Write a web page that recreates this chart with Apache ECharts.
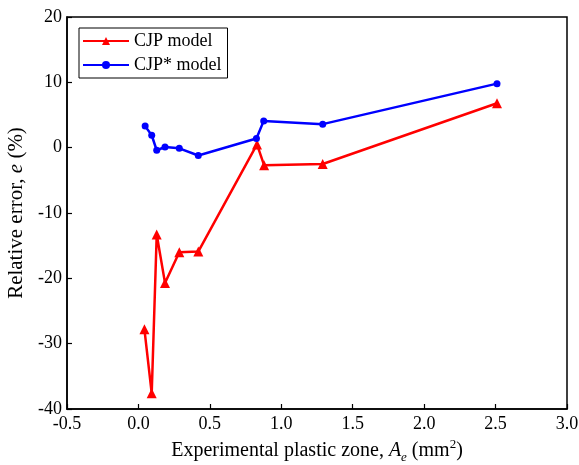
<!DOCTYPE html>
<html>
<head>
<meta charset="utf-8">
<script src="https://cdn.jsdelivr.net/npm/echarts@6/dist/echarts.min.js"></script>
<style>
  html, body { margin: 0; padding: 0; background: #fff; }
  #chart { width: 579px; height: 465px; }
</style>
</head>
<body>
<div id="chart"></div>
<script>
// data
var cjpX = [0.042, 0.093, 0.128, 0.186, 0.286, 0.419, 0.83, 0.88, 1.29, 2.51]
var cjpY = [-27.8, -37.6, -13.3, -20.7, -16.0, -15.9, 0.5, -2.7, -2.5, 6.8]
var cjpStarX = [0.047, 0.093, 0.128, 0.186, 0.286, 0.419, 0.826, 0.877, 1.29, 2.51]
var cjpStarY = [3.3, 1.9, -0.4, 0.1, -0.1, -1.2, 1.4, 4.1, 3.6, 9.8]

function pairs (xs, ys) {
  var out = []
  for (var i = 0; i < xs.length; i++) out.push([xs[i], ys[i]])
  return out
}

var serif = '"Liberation Serif", "DejaVu Serif", serif'
var chart = echarts.init(document.getElementById('chart'))

var options = {
  backgroundColor: '#fff',
  animation: false,
  grid: {
    left: 67,
    right: 12,
    top: 17,
    bottom: 56,
    outerBoundsMode: 'none',
    show: true,
    borderColor: '#000',
    borderWidth: 1.5
  },
  legend: {
    orient: 'vertical',
    left: 79,
    top: 28,
    itemWidth: 46,
    itemHeight: 10,
    itemGap: 6,
    padding: [4, 6, 4, 3],
    borderColor: '#000',
    borderWidth: 1,
    textStyle: { fontFamily: serif, fontSize: 18, color: '#000' },
    data: ['CJP model', 'CJP* model']
  },
  xAxis: {
    type: 'value',
    min: -0.5,
    max: 3.0,
    interval: 0.5,
    name: '{n|Experimental plastic zone, }{i|A}{sub|e}{n| (mm}{sup|2}{n|)}',
    nameLocation: 'middle',
    nameGap: 28,
    nameTextStyle: {
      rich: {
        n: { fontFamily: serif, fontSize: 20, color: '#000', lineHeight: 26 },
        i: { fontFamily: serif, fontSize: 20, color: '#000', fontStyle: 'italic', lineHeight: 26 },
        sub: { fontFamily: serif, fontSize: 13, color: '#000', fontStyle: 'italic', verticalAlign: 'bottom' },
        sup: { fontFamily: serif, fontSize: 13, color: '#000', verticalAlign: 'top' }
      }
    },
    axisLine: { onZero: false, lineStyle: { color: '#000', width: 1.5 } },
    axisTick: { inside: true, length: 5, lineStyle: { color: '#000', width: 1.2 } },
    axisLabel: {
      fontFamily: serif,
      fontSize: 18,
      color: '#000',
      margin: 6,
      formatter: function (v) { return v.toFixed(1) }
    },
    splitLine: { show: false }
  },
  yAxis: {
    type: 'value',
    min: -40,
    max: 20,
    interval: 10,
    name: '{n|Relative error, }{i|e}{n| (%)}',
    nameLocation: 'middle',
    nameGap: 34,
    nameTextStyle: {
      rich: {
        n: { fontFamily: serif, fontSize: 21, color: '#000' },
        i: { fontFamily: serif, fontSize: 21, color: '#000', fontStyle: 'italic' }
      }
    },
    axisLine: { onZero: false, lineStyle: { color: '#000', width: 1.5 } },
    axisTick: { inside: true, length: 5, lineStyle: { color: '#000', width: 1.2 } },
    axisLabel: { fontFamily: serif, fontSize: 18, color: '#000', margin: 5 },
    splitLine: { show: false }
  },
  series: [
    {
      name: 'CJP model',
      type: 'line',
      data: pairs(cjpX, cjpY),
      symbol: 'triangle',
      symbolSize: 10,
      color: '#ff0000',
      lineStyle: { width: 2.5, color: '#ff0000' },
      itemStyle: { color: '#ff0000' }
    },
    {
      name: 'CJP* model',
      type: 'line',
      data: pairs(cjpStarX, cjpStarY),
      symbol: 'circle',
      symbolSize: 7,
      color: '#0000ff',
      lineStyle: { width: 2.5, color: '#0000ff' },
      itemStyle: { color: '#0000ff' }
    }
  ]
}

chart.setOption(options)
</script>
</body>
</html>
